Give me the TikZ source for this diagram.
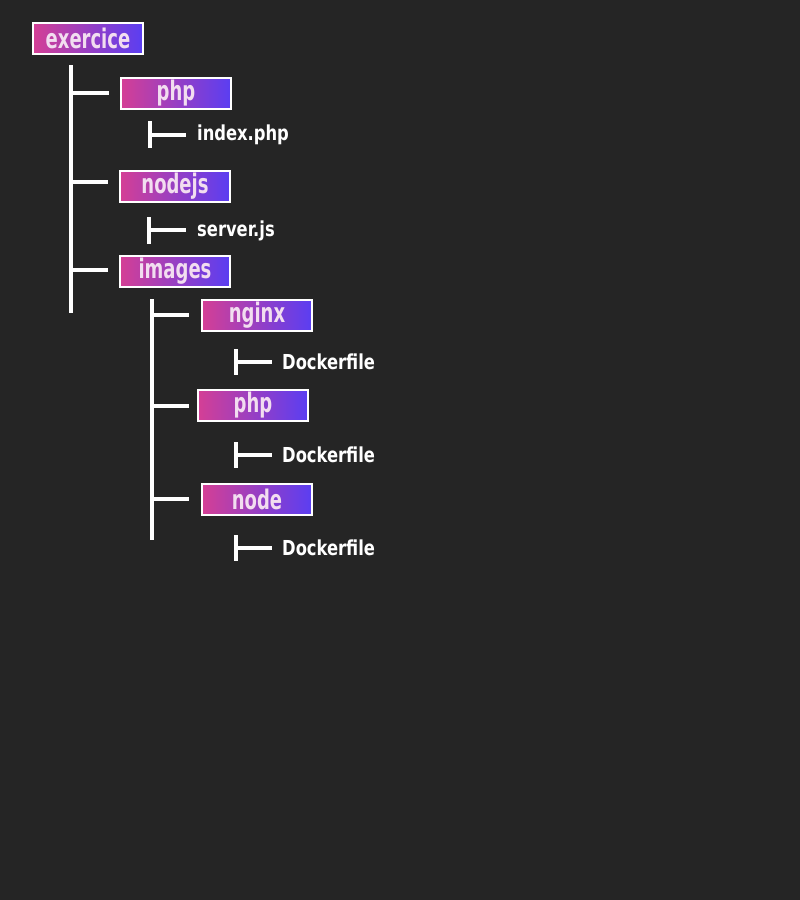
\documentclass[tikz,border=0pt]{standalone}
\usepackage{graphicx}
\usepackage{fontspec}
\newfontfamily\condfont{DejaVu Sans Condensed}
\definecolor{bg}{HTML}{252525}
\definecolor{gpink}{HTML}{D43F95}
\definecolor{gblue}{HTML}{5A3EF2}
\definecolor{labtxt}{HTML}{F2DDF0}
\newcommand\boxlab[1]{\scalebox{1.0}[1.35]{#1}}
\newcommand\filelab[1]{\scalebox{1.1}[1.25]{#1}}
\tikzset{
  dirbox/.style={draw=white, line width=2pt, minimum width=110pt, minimum height=31pt,
    left color=gpink, right color=gblue, text=labtxt, inner sep=0pt,
    font=\condfont\bfseries\fontsize{20}{22}\selectfont},
  filetext/.style={anchor=west, text=white, inner sep=0pt,
    font=\condfont\bfseries\fontsize{16.5}{18}\selectfont},
  treeline/.style={draw=white, line width=4pt}
}
\begin{document}
\begin{tikzpicture}[x=1pt,y=-1pt]
\useasboundingbox[fill=bg] (0,0) rectangle (800,900);
% directories
\node[dirbox] (exercice) at (88,38.5) {\boxlab{exercice}};
\node[dirbox] (php) at (176,93.5) {\boxlab{php}};
\node[dirbox] (nodejs) at (175,186.5) {\boxlab{nodejs}};
\node[dirbox] (images) at (175,271.5) {\boxlab{images}};
\node[dirbox] (nginx) at (257,315.5) {\boxlab{nginx}};
\node[dirbox] (php2) at (253,405.5) {\boxlab{php}};
\node[dirbox] (node) at (257,499.5) {\boxlab{node}};
% files
\node[filetext] (index) at (197,135) {\filelab{index.php}};
\node[filetext] (server) at (197,231) {\filelab{server.js}};
\node[filetext] (df1) at (282,362) {\filelab{Dockerfile}};
\node[filetext] (df2) at (282,455) {\filelab{Dockerfile}};
\node[filetext] (df3) at (282,548) {\filelab{Dockerfile}};
% main trunk
\coordinate (t0) at (71,65);
\coordinate (t3) at (71,313);
\draw[treeline] (t0) -- (t3);
\coordinate (t1a) at (71,93);
\coordinate (t1b) at (71,182);
\coordinate (t1c) at (71,270);
\draw[treeline] (t1a) -- ([xshift=-11pt]t1a -| php.west);
\draw[treeline] (t1b) -- ([xshift=-11pt]t1b -| nodejs.west);
\draw[treeline] (t1c) -- ([xshift=-11pt]t1c -| images.west);
% second trunk
\coordinate (s0) at (152,299);
\coordinate (s3) at (152,540);
\draw[treeline] (s0) -- (s3);
\coordinate (s1a) at (152,315);
\coordinate (s1b) at (152,406);
\coordinate (s1c) at (152,499);
\draw[treeline] (s1a) -- (189,315);
\draw[treeline] (s1b) -- (189,406);
\draw[treeline] (s1c) -- (189,499);
% file brackets
\coordinate (b1t) at (150,121); \coordinate (b1b) at (150,148); \coordinate (b1m) at (150,135);
\draw[treeline] (b1t) -- (b1b);
\draw[treeline] (b1m) -- ([xshift=-11pt]index.west);
\coordinate (b2t) at (149,217); \coordinate (b2b) at (149,244); \coordinate (b2m) at (149,230);
\draw[treeline] (b2t) -- (b2b);
\draw[treeline] (b2m) -- ([xshift=-11pt]server.west |- b2m);
\coordinate (b3t) at (236,349); \coordinate (b3b) at (236,375); \coordinate (b3m) at (236,362);
\draw[treeline] (b3t) -- (b3b);
\draw[treeline] (b3m) -- ([xshift=-10pt]df1.west);
\coordinate (b4t) at (236,442); \coordinate (b4b) at (236,468); \coordinate (b4m) at (236,455);
\draw[treeline] (b4t) -- (b4b);
\draw[treeline] (b4m) -- ([xshift=-10pt]df2.west);
\coordinate (b5t) at (236,535); \coordinate (b5b) at (236,561); \coordinate (b5m) at (236,548);
\draw[treeline] (b5t) -- (b5b);
\draw[treeline] (b5m) -- ([xshift=-10pt]df3.west);
\end{tikzpicture}
\end{document}
